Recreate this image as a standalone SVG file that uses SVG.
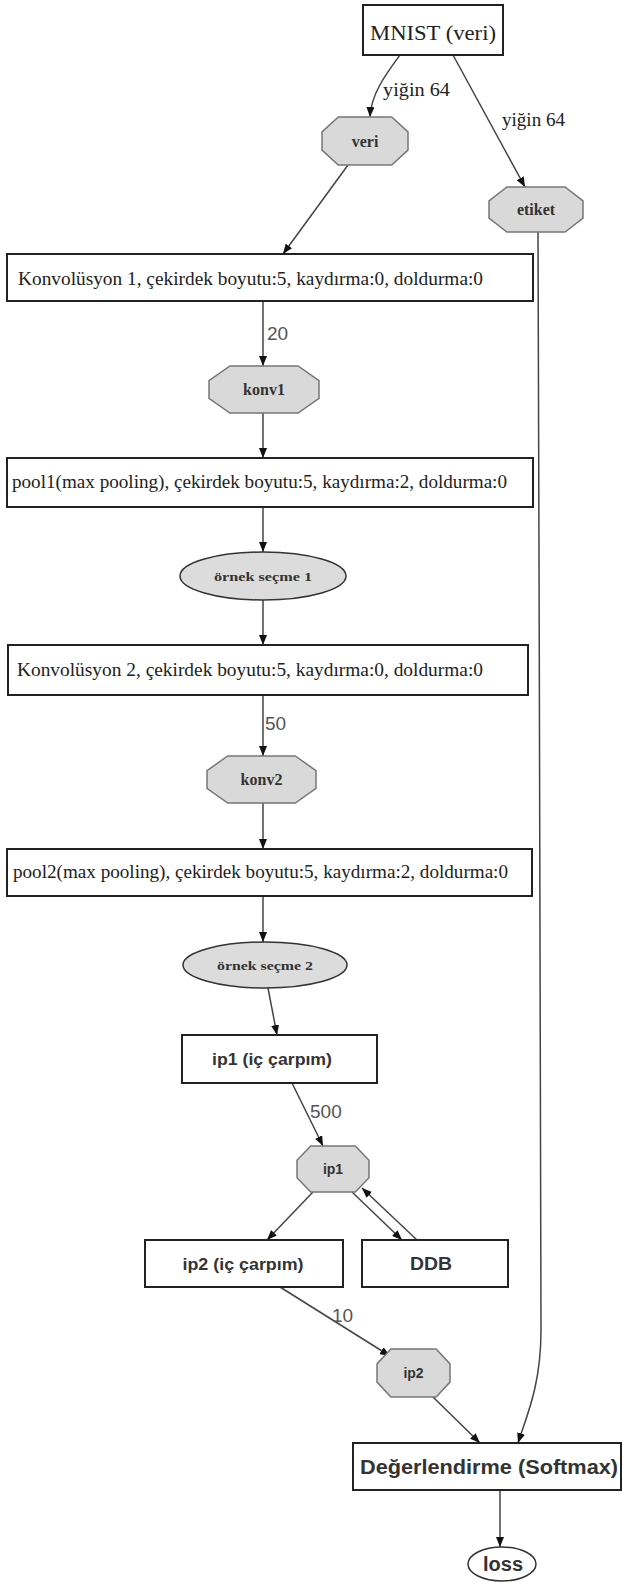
<svg xmlns="http://www.w3.org/2000/svg" width="622" height="1582" viewBox="0 0 622 1582">
<style>
.box{fill:#fff;stroke:#222;stroke-width:2}
.oct{fill:#d9d9d9;stroke:#777;stroke-width:1.5}
.ell{fill:#dcdcdc;stroke:#333;stroke-width:1.5}
.edge{fill:none;stroke:#444;stroke-width:1.5;marker-end:url(#arr)}
.serif{font-family:"Liberation Serif","Times New Roman",serif;fill:#222}
.bserif{font-family:"Liberation Serif","Times New Roman",serif;font-weight:bold;fill:#333}
.sans{font-family:"Liberation Sans",Arial,sans-serif;font-weight:bold;fill:#333}
.num{font-family:"Liberation Sans",Arial,sans-serif;fill:#555;font-size:19px}
</style>
<defs>
<marker id="arr" markerUnits="userSpaceOnUse" markerWidth="10" markerHeight="8" refX="10" refY="4" orient="auto">
<path d="M0,0 L10,4 L0,8 z" fill="#111"/>
</marker>
</defs>
<rect width="622" height="1582" fill="#fff"/>
<g id="connectors">
<path class="edge" d="M400,55 C386,74 371,94 370,117"/>
<path class="edge" d="M453,55 L525,187"/>
<path class="edge" d="M348,165 L283,254"/>
<path class="edge" d="M263,301 L263,366"/>
<path class="edge" d="M263,413 L263,458"/>
<path class="edge" d="M263,507 L263,552"/>
<path class="edge" d="M263,600 L263,645"/>
<path class="edge" d="M263,695 L263,756"/>
<path class="edge" d="M263,803 L263,849"/>
<path class="edge" d="M263,896 L263,942"/>
<path class="edge" d="M268,988 L277,1035"/>
<path class="edge" d="M292,1083 L323,1146"/>
<path class="edge" d="M313,1192 L267,1240"/>
<path class="edge" d="M352,1192 L402,1240"/>
<path class="edge" d="M417,1240 L362,1188"/>
<path class="edge" d="M280,1287 L390,1356"/>
<path class="edge" d="M433,1397 L480,1443"/>
<path class="edge" d="M538,232 C539,600 541,1100 541,1330 C541,1385 527,1415 518,1443"/>
<path class="edge" d="M500,1490 L500,1547"/>
<text class="serif" x="383" y="96" font-size="19" textLength="67" lengthAdjust="spacingAndGlyphs">yiğin 64</text>
<text class="serif" x="502" y="126" font-size="19" textLength="63" lengthAdjust="spacingAndGlyphs">yiğin 64</text>
<text class="num" x="267" y="340">20</text>
<text class="num" x="265" y="730">50</text>
<text class="num" x="310" y="1118">500</text>
<text class="num" x="332" y="1322">10</text>
</g>
<g id="mnist">
<rect class="box" x="363" y="5" width="140" height="50"/>
<text class="serif" x="433" y="40" font-size="22" text-anchor="middle" textLength="126" lengthAdjust="spacingAndGlyphs">MNIST (veri)</text>
</g>
<g id="veri">
<polygon class="oct" points="338.3,117 391.7,117 408,131.9 408,150.1 391.7,165 338.3,165 322,150.1 322,131.9"/>
<text class="bserif" x="365" y="147" font-size="16" text-anchor="middle">veri</text>
</g>
<g id="etiket">
<polygon class="oct" points="506.9,187 565.1,187 583,200.9 583,218.1 565.1,232 506.9,232 489,218.1 489,200.9"/>
<text class="bserif" x="536" y="215" font-size="16" text-anchor="middle">etiket</text>
</g>
<g id="konv1box">
<rect class="box" x="7" y="254" width="526" height="47"/>
<text class="serif" x="18" y="285" font-size="19" textLength="465" lengthAdjust="spacingAndGlyphs">Konvolüsyon 1, çekirdek boyutu:5, kaydırma:0, doldurma:0</text>
</g>
<g id="konv1">
<polygon class="oct" points="229.9,366 298.1,366 319,380.6 319,398.4 298.1,413 229.9,413 209,398.4 209,380.6"/>
<text class="bserif" x="264" y="395" font-size="16" text-anchor="middle">konv1</text>
</g>
<g id="pool1">
<rect class="box" x="7" y="458" width="526" height="49"/>
<text class="serif" x="12" y="488" font-size="19" textLength="495" lengthAdjust="spacingAndGlyphs">pool1(max pooling), çekirdek boyutu:5, kaydırma:2, doldurma:0</text>
</g>
<g id="ornek1">
<ellipse class="ell" cx="263" cy="576" rx="83" ry="24"/>
<text class="bserif" x="263" y="581" font-size="13" text-anchor="middle" textLength="98" lengthAdjust="spacingAndGlyphs">örnek seçme 1</text>
</g>
<g id="konv2box">
<rect class="box" x="8" y="645" width="520" height="50"/>
<text class="serif" x="17" y="676" font-size="19" textLength="466" lengthAdjust="spacingAndGlyphs">Konvolüsyon 2, çekirdek boyutu:5, kaydırma:0, doldurma:0</text>
</g>
<g id="konv2">
<polygon class="oct" points="227.7,756 295.3,756 316,770.6 316,788.4 295.3,803 227.7,803 207,788.4 207,770.6"/>
<text class="bserif" x="261.5" y="785" font-size="16" text-anchor="middle">konv2</text>
</g>
<g id="pool2">
<rect class="box" x="7" y="849" width="525" height="47"/>
<text class="serif" x="13" y="878" font-size="19" textLength="495" lengthAdjust="spacingAndGlyphs">pool2(max pooling), çekirdek boyutu:5, kaydırma:2, doldurma:0</text>
</g>
<g id="ornek2">
<ellipse class="ell" cx="265" cy="965" rx="82" ry="23"/>
<text class="bserif" x="265" y="970" font-size="13" text-anchor="middle" textLength="96" lengthAdjust="spacingAndGlyphs">örnek seçme 2</text>
</g>
<g id="ip1box">
<rect class="box" x="182" y="1035" width="195" height="48"/>
<text class="sans" x="272" y="1065" font-size="17" text-anchor="middle" textLength="120" lengthAdjust="spacingAndGlyphs">ip1 (iç çarpım)</text>
</g>
<g id="ip1">
<polygon class="oct" points="310.7,1146 355.3,1146 369,1160.3 369,1177.7 355.3,1192 310.7,1192 297,1177.7 297,1160.3"/>
<text class="sans" x="333" y="1174" font-size="14" text-anchor="middle">ip1</text>
</g>
<g id="ip2box">
<rect class="box" x="145" y="1240" width="198" height="47"/>
<text class="sans" x="243" y="1270" font-size="17" text-anchor="middle" textLength="121" lengthAdjust="spacingAndGlyphs">ip2 (iç çarpım)</text>
</g>
<g id="ddb">
<rect class="box" x="362" y="1240" width="146" height="47"/>
<text class="sans" x="431" y="1270" font-size="18" text-anchor="middle" textLength="42" lengthAdjust="spacingAndGlyphs">DDB</text>
</g>
<g id="ip2">
<polygon class="oct" points="390.9,1349 436.1,1349 450,1363.9 450,1382.1 436.1,1397 390.9,1397 377,1382.1 377,1363.9"/>
<text class="sans" x="413.5" y="1378" font-size="14" text-anchor="middle">ip2</text>
</g>
<g id="degerlendirme">
<rect class="box" x="353" y="1443" width="268" height="47"/>
<text class="sans" x="489" y="1474" font-size="20" text-anchor="middle" textLength="258" lengthAdjust="spacingAndGlyphs">Değerlendirme (Softmax)</text>
</g>
<g id="loss">
<ellipse cx="502" cy="1564" rx="34" ry="17" fill="#fff" stroke="#333" stroke-width="1.5"/>
<text class="sans" x="503" y="1571" font-size="20" text-anchor="middle">loss</text>
</g>
</svg>
